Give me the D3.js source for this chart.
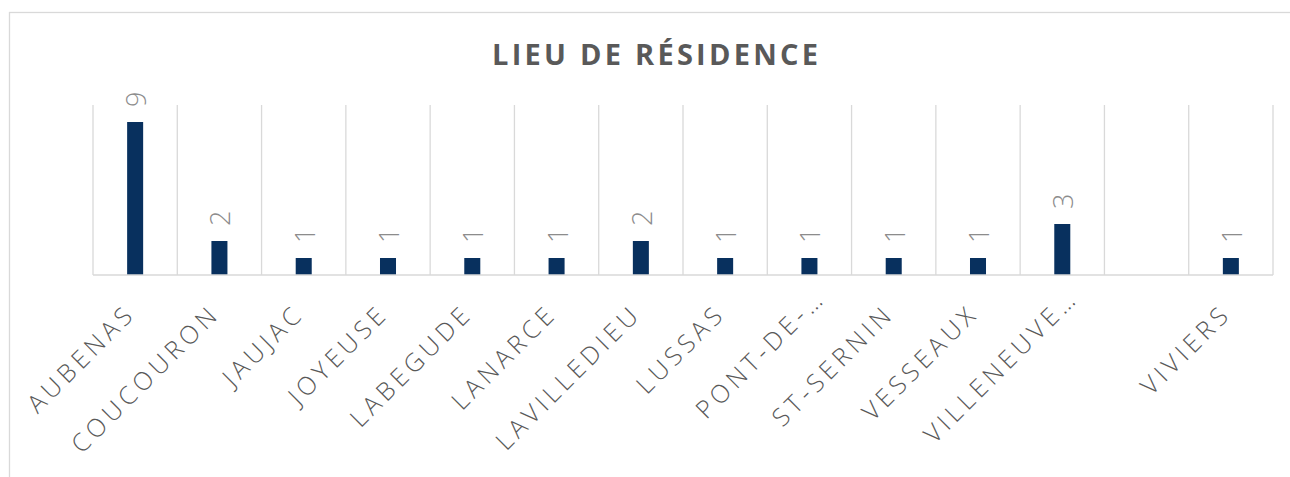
<!DOCTYPE html>
<html>
<head>
<meta charset="utf-8">
<script src="https://cdn.jsdelivr.net/npm/d3@7"></script>
<style>
  html, body { margin: 0; padding: 0; background: #fff; }
  svg { display: block; }
</style>
</head>
<body>
<div id="chart"></div>
<script>
// data
const categories = ['AUBENAS', 'COUCOURON', 'JAUJAC', 'JOYEUSE', 'LABEGUDE', 'LANARCE',
    'LAVILLEDIEU', 'LUSSAS', 'PONT-DE-…', 'ST-SERNIN', 'VESSEAUX', 'VILLENEUVE…', '', 'VIVIERS'];
const counts = [9, 2, 1, 1, 1, 1, 2, 1, 1, 1, 1, 3, null, 1];
const yDomain = [0, 10];
const title = 'LIEU DE RÉSIDENCE';

const width = 1290, height = 477;
const plot = { left: 93, right: 1273, top: 105, bottom: 275 };
const barColor = '#08305e';
const gridColor = '#d9d9d9';
const font = '"Open Sans", "DejaVu Sans", sans-serif';

const rows = categories.map((c, i) => ({ name: c, value: counts[i], key: i }));

const svg = d3.select('#chart')
    .append('svg')
    .attr('width', width)
    .attr('height', height);

// chart frame (runs off the right and bottom edge)
svg.append('rect')
    .attr('x', 9.5)
    .attr('y', 12.5)
    .attr('width', 1400)
    .attr('height', 600)
    .attr('fill', 'none')
    .attr('stroke', gridColor)
    .attr('stroke-width', 1.3);

svg.append('text')
    .attr('x', 655)
    .attr('y', 65)
    .attr('text-anchor', 'middle')
    .attr('font-family', font)
    .attr('font-weight', 'bold')
    .attr('font-size', '29px')
    .attr('fill', '#595959')
    .attr('textLength', 326)
    .attr('lengthAdjust', 'spacing')
    .text(title);

const x = d3.scaleBand()
    .domain(rows.map(d => d.key))
    .range([plot.left, plot.right])
    .padding(0);

const y = d3.scaleLinear()
    .domain(yDomain)
    .range([plot.bottom, plot.top]);

const barW = x.bandwidth() * 0.19;

// category separators
const g = svg.append('g');
g.selectAll('.sep')
    .data(d3.range(categories.length + 1))
    .enter()
    .append('line')
    .attr('class', 'sep')
    .attr('x1', i => plot.left + i * x.bandwidth())
    .attr('x2', i => plot.left + i * x.bandwidth())
    .attr('y1', y(yDomain[1]))
    .attr('y2', y(0))
    .attr('stroke', gridColor)
    .attr('stroke-width', 1.3);

g.selectAll('.bar')
    .data(rows.filter(d => d.value != null))
    .enter()
    .append('rect')
    .attr('class', 'bar')
    .attr('x', d => x(d.key) + x.bandwidth() / 2 - barW / 2)
    .attr('y', d => y(d.value))
    .attr('width', barW)
    .attr('height', d => y(0) - y(d.value))
    .attr('fill', barColor);

// baseline
g.append('line')
    .attr('x1', plot.left)
    .attr('x2', plot.right)
    .attr('y1', y(0))
    .attr('y2', y(0))
    .attr('stroke', gridColor)
    .attr('stroke-width', 1.5);

// value labels, rotated
g.selectAll('.val')
    .data(rows.filter(d => d.value != null))
    .enter()
    .append('text')
    .attr('class', 'val')
    .attr('transform', d => `translate(${x(d.key) + x.bandwidth() / 2 + 11},${y(d.value) - 15}) rotate(-90)`)
    .attr('font-family', font)
    .attr('font-weight', 300)
    .attr('font-size', '27px')
    .attr('fill', '#8c8c8c')
    .text(d => d.value);

// category axis labels (truncated ones sit a little further out, like Excel)
g.selectAll('.cat')
    .data(rows)
    .enter()
    .append('text')
    .attr('class', 'cat')
    .attr('transform', d => `translate(${x(d.key) + x.bandwidth() / 2 + 2},${y(0) + 40}) rotate(-45)`)
    .attr('text-anchor', 'end')
    .attr('dx', d => d.name.endsWith('…') ? 22 : 0)
    .attr('font-family', font)
    .attr('font-weight', 300)
    .attr('font-size', '25px')
    .attr('letter-spacing', '4.5px')
    .attr('fill', '#595959')
    .text(d => d.name);
</script>
</body>
</html>
